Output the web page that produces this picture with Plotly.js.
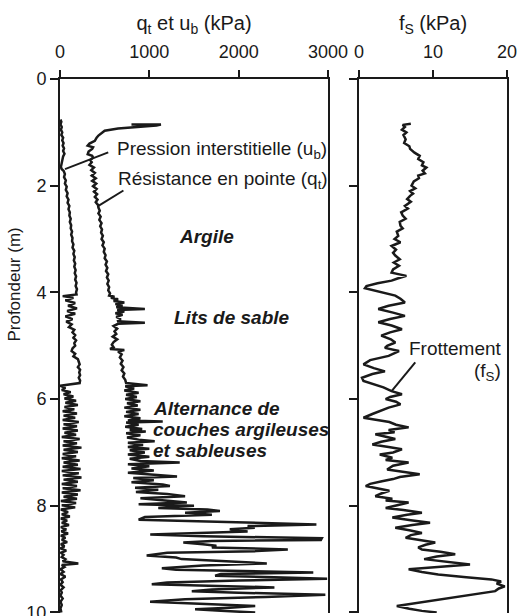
<!DOCTYPE html>
<html>
<head>
<meta charset="utf-8">
<script src="https://cdn.plot.ly/plotly-3.0.1.min.js"></script>
<style>html,body{margin:0;padding:0;background:#fff;}#chart{width:519px;height:616px;}</style>
</head>
<body>
<div id="chart"></div>
<script>
// Résistance en pointe q_t (kPa) vs profondeur (m)
const qtDepth = [0.855,0.855,0.87,0.90,0.93,0.97,1.02,1.06,1.10,1.16,1.21,1.25,1.28,1.31,1.36,1.41,1.44,1.47,1.52,1.56,1.61,1.66,1.71,1.76,1.81,1.86,1.91,1.96,2.01,2.06,2.11,2.16,2.21,2.26,2.31,2.36,2.41,2.47,2.52,2.58,2.64,2.70,2.76,2.82,2.88,2.94,3.00,3.06,3.12,3.18,3.24,3.30,3.36,3.42,3.48,3.54,3.60,3.66,3.72,3.78,3.84,3.90,3.96,4.02,4.06,4.08,4.10,4.13,4.16,4.19,4.22,4.25,4.28,4.31,4.33,4.36,4.39,4.42,4.46,4.50,4.54,4.57,4.59,4.63,4.68,4.73,4.78,4.83,4.88,4.93,4.98,5.03,5.06,5.08,5.11,5.16,5.22,5.28,5.34,5.40,5.46,5.52,5.58,5.64,5.70,5.74,5.76,5.80,5.84,5.88,5.92,5.96,6.00,6.04,6.08,6.12,6.16,6.20,6.24,6.28,6.32,6.36,6.40,6.42,6.44,6.48,6.52,6.56,6.58,6.61,6.64,6.68,6.72,6.76,6.79,6.82,6.86,6.90,6.93,6.96,7.00,7.04,7.08,7.12,7.16,7.19,7.22,7.26,7.30,7.34,7.38,7.42,7.45,7.48,7.52,7.56,7.60,7.63,7.66,7.70,7.74,7.78,7.82,7.86,7.90,7.94,7.97,8.00,8.04,8.07,8.10,8.13,8.17,8.21,8.26,8.30,8.35,8.38,8.41,8.44,8.48,8.54,8.57,8.61,8.64,8.66,8.69,8.72,8.75,8.78,8.82,8.85,8.88,8.93,8.97,9.00,9.04,9.08,9.12,9.17,9.20,9.25,9.28,9.31,9.34,9.37,9.40,9.44,9.47,9.50,9.53,9.57,9.60,9.63,9.67,9.71,9.75,9.80,9.84,9.88,9.91,9.94,9.97,10.0];
const qtValue = [800,1130,1080,880,650,500,460,430,410,390,330,310,370,360,320,310,360,370,340,355,330,380,350,390,355,400,360,405,370,410,380,415,390,420,400,425,430,445,430,455,440,465,450,470,460,480,465,490,475,500,490,510,500,525,510,530,515,540,525,545,530,550,540,560,550,610,570,650,600,720,620,700,630,950,640,720,620,700,630,680,640,950,650,600,640,610,630,590,640,600,580,600,560,720,650,690,670,700,680,710,690,720,705,730,740,980,730,830,720,880,740,860,730,900,750,870,720,900,740,880,720,900,760,1150,740,880,730,920,780,960,740,900,750,880,1060,760,930,760,1000,780,950,760,1000,780,900,1340,760,1000,800,1050,760,1100,1310,820,1050,800,1150,1230,840,1100,850,1200,1400,900,1200,1420,880,1500,1100,1650,1790,1400,1700,950,880,1900,2870,2100,2180,1900,2100,1010,1600,2930,2920,1700,1380,1600,1750,1700,2550,2200,1200,970,1300,1360,1800,2315,1600,1140,1300,2835,1800,1736,2400,2990,2000,1200,1027,1800,2400,1700,1475,2000,2970,2300,1400,1008,1700,2185,1900,1512,1800,2185];

// Pression interstitielle u_b (kPa)
const ubDepth = [0.76,0.80,0.85,0.90,0.95,1.00,1.05,1.10,1.15,1.20,1.25,1.30,1.35,1.40,1.45,1.50,1.55,1.60,1.65,1.69,1.72,1.78,1.84,1.90,1.96,2.02,2.08,2.14,2.20,2.26,2.32,2.38,2.44,2.50,2.56,2.62,2.68,2.74,2.80,2.86,2.92,2.98,3.04,3.10,3.16,3.22,3.28,3.34,3.40,3.46,3.52,3.58,3.64,3.70,3.76,3.82,3.88,3.94,4.00,4.04,4.07,4.10,4.15,4.20,4.25,4.30,4.35,4.40,4.45,4.50,4.55,4.60,4.65,4.70,4.75,4.80,4.85,4.90,4.95,5.00,5.05,5.10,5.15,5.20,5.25,5.30,5.35,5.40,5.45,5.50,5.55,5.60,5.65,5.70,5.75,5.79,5.83,5.87,5.91,5.95,5.99,6.03,6.07,6.11,6.15,6.19,6.23,6.27,6.31,6.35,6.39,6.43,6.47,6.51,6.55,6.59,6.63,6.67,6.71,6.75,6.79,6.83,6.87,6.91,6.95,6.99,7.03,7.07,7.11,7.15,7.19,7.23,7.27,7.31,7.35,7.39,7.43,7.47,7.51,7.55,7.59,7.63,7.67,7.71,7.75,7.79,7.83,7.87,7.91,7.95,7.99,8.03,8.07,8.12,8.16,8.20,8.24,8.28,8.32,8.36,8.40,8.44,8.48,8.52,8.56,8.60,8.64,8.68,8.72,8.76,8.80,8.84,8.88,8.92,8.96,9.00,9.04,9.08,9.11,9.15,9.19,9.24,9.28,9.33,9.38,9.43,9.48,9.53,9.58,9.63,9.68,9.74,9.80,9.86,9.92,10.0];
const ubValue = [5,15,5,20,10,25,15,35,25,40,30,45,35,50,35,30,25,15,10,20,40,55,45,65,55,75,65,85,75,95,85,105,95,110,105,120,110,125,120,135,125,140,135,150,140,160,150,165,155,170,160,175,165,180,170,185,175,190,180,185,30,150,60,170,90,190,80,170,60,140,70,130,100,160,140,170,150,180,160,170,140,130,170,150,200,210,220,200,225,215,225,210,225,220,0,60,20,120,40,150,50,180,60,200,50,160,30,190,40,170,30,210,40,190,30,200,50,180,20,220,40,190,30,240,40,200,30,180,20,220,40,200,30,230,20,210,30,240,40,200,20,190,30,230,20,200,40,190,10,180,20,170,10,90,20,110,10,80,20,100,10,70,15,90,10,60,20,80,10,50,5,70,10,40,20,60,30,205,20,50,5,40,5,60,10,30,5,40,10,20,5,30,5,20,5,15];

// Frottement f_s (kPa)
const fsDepth = [0.84,0.86,0.90,0.95,1.00,1.05,1.13,1.20,1.26,1.31,1.38,1.44,1.50,1.56,1.62,1.66,1.72,1.77,1.81,1.86,1.92,2.00,2.05,2.10,2.15,2.19,2.25,2.30,2.38,2.43,2.50,2.56,2.62,2.68,2.75,2.80,2.86,2.94,3.00,3.06,3.13,3.20,3.26,3.31,3.38,3.44,3.50,3.57,3.63,3.69,3.74,3.78,3.83,3.88,3.92,3.97,4.02,4.06,4.12,4.19,4.25,4.31,4.38,4.44,4.50,4.56,4.62,4.69,4.75,4.81,4.88,4.94,5.00,5.04,5.10,5.19,5.27,5.35,5.42,5.48,5.53,5.60,5.66,5.72,5.78,5.85,5.91,5.96,6.00,6.05,6.10,6.16,6.22,6.28,6.35,6.39,6.43,6.48,6.53,6.58,6.62,6.66,6.71,6.75,6.80,6.85,6.90,6.94,7.00,7.04,7.10,7.14,7.19,7.25,7.32,7.36,7.41,7.46,7.50,7.54,7.59,7.63,7.68,7.72,7.77,7.82,7.87,7.90,7.94,7.99,8.04,8.08,8.13,8.17,8.22,8.27,8.32,8.36,8.41,8.46,8.51,8.55,8.60,8.64,8.69,8.73,8.78,8.82,8.86,8.91,8.95,9.00,9.05,9.10,9.14,9.19,9.24,9.29,9.34,9.38,9.42,9.46,9.51,9.55,9.60,9.64,9.69,9.74,9.79,9.84,9.88,9.93,9.97,10.0];
const fsValue = [7.0,5.9,6.2,5.8,6.4,6.0,6.3,6.1,6.8,6.9,7.5,8.2,8.0,8.7,8.5,9.1,8.6,8.9,8.0,8.1,7.4,7.1,7.6,6.9,7.3,6.9,6.5,7.0,6.2,6.6,5.7,5.9,6.3,5.5,5.6,5.9,5.1,5.3,4.8,5.6,4.4,5.0,4.6,4.9,5.5,4.7,5.4,4.6,4.4,6.4,5.2,4.4,2.5,1.0,0.8,2.2,3.6,4.9,5.6,6.2,4.0,2.6,4.6,6.2,4.2,2.6,4.4,5.8,4.2,3.0,4.3,4.9,3.8,3.5,5.4,4.0,1.5,0.6,2.0,3.5,1.8,0.4,0.6,2.0,3.3,4.4,5.8,4.2,3.6,5.0,5.6,4.0,2.8,1.8,0.6,2.5,4.1,5.0,6.7,4.0,4.8,2.2,3.6,4.9,3.0,1.8,4.0,5.8,4.6,2.8,4.5,3.6,6.7,4.6,3.8,6.0,8.2,5.5,4.6,3.1,1.5,0.9,2.6,4.1,3.0,2.2,4.5,3.6,6.7,5.0,3.6,6.0,8.5,6.5,4.5,7.0,9.6,7.2,4.9,6.8,8.5,7.0,6.3,8.2,10.3,9.0,8.0,8.5,11.0,13.0,10.5,8.8,12.0,15.0,11.5,6.7,8.5,10.7,14.5,17.9,19.2,18.6,19.7,18.9,18.4,16.5,14.3,12.0,9.8,7.5,5.1,6.8,8.5,10.5];

const qtTicks = [0, 1000, 2000, 3000];
const fsTicks = [0, 10, 20];
const depthTicks = [0, 2, 4, 6, 8, 10];

const FONT = 'Liberation Sans, Arial, Helvetica, sans-serif';
const INK = '#1a1a1a';

const lineStyle = {color: INK, width: 2.5};
const traces = [
  {x: ubValue, y: ubDepth, xaxis: 'x', yaxis: 'y', mode: 'lines', line: lineStyle, name: 'u_b', hoverinfo: 'skip'},
  {x: qtValue, y: qtDepth, xaxis: 'x', yaxis: 'y', mode: 'lines', line: lineStyle, name: 'q_t', hoverinfo: 'skip'},
  {x: fsValue, y: fsDepth, xaxis: 'x2', yaxis: 'y2', mode: 'lines', line: lineStyle, name: 'f_s', hoverinfo: 'skip'}
];

const axCommon = {
  showline: true, linewidth: 2, linecolor: INK, showgrid: false, zeroline: false,
  ticks: 'outside', tickwidth: 2, tickcolor: INK, ticklen: 7,
  tickfont: {family: FONT, size: 18, color: INK}, fixedrange: true,
  ticklabeloverflow: 'allow'
};

const italic = {family: FONT, size: 19, color: INK};
const layout = {
  width: 519, height: 616,
  margin: {l: 60, r: 12, t: 79, b: 3},
  paper_bgcolor: '#fff', plot_bgcolor: '#fff',
  showlegend: false,
  font: {family: FONT, color: INK},
  xaxis: Object.assign({}, axCommon, {
    domain: [0, 0.5996], range: [0, 3000], side: 'top', anchor: 'y',
    tickvals: qtTicks, ticktext: qtTicks.map(String), ticklabelstandoff: 5,
    title: {text: 'q<sub>t</sub> et u<sub>b</sub> (kPa)', font: {family: FONT, size: 20, color: INK}, standoff: 6}
  }),
  xaxis2: Object.assign({}, axCommon, {
    domain: [0.669, 1], range: [0, 20], side: 'top', anchor: 'y2',
    tickvals: fsTicks, ticktext: fsTicks.map(String), ticklabelstandoff: 5,
    title: {text: 'f<sub>S</sub> (kPa)', font: {family: FONT, size: 20, color: INK}, standoff: 6}
  }),
  yaxis: Object.assign({}, axCommon, {
    domain: [0, 1], range: [10.01, 0], anchor: 'x', mirror: true, ticklen: 8,
    tickvals: depthTicks, ticktext: depthTicks.map(String)
  }),
  yaxis2: Object.assign({}, axCommon, {
    domain: [0, 1], range: [10.01, 0], anchor: 'x2', mirror: true, ticklen: 8,
    tickvals: depthTicks, showticklabels: false, matches: 'y'
  }),
  shapes: [
    {type: 'line', xref: 'x', yref: 'y', x0: 56, y0: 1.69, x1: 540, y1: 1.375, line: {color: INK, width: 2}},
    {type: 'line', xref: 'x', yref: 'y', x0: 430, y0: 2.38, x1: 710, y1: 2.09, line: {color: INK, width: 2}},
    {type: 'line', xref: 'x2', yref: 'y2', x0: 4.4, y0: 5.85, x1: 7.6, y1: 5.31, line: {color: INK, width: 2}}
  ],
  annotations: [
    {xref: 'paper', yref: 'paper', x: -0.1007, y: 0.615, text: 'Profondeur (m)', textangle: -90, showarrow: false, font: {family: FONT, size: 17, color: INK}, xanchor: 'center', yanchor: 'middle'},
    {xref: 'x', yref: 'y', x: 620, y: 1.34, text: 'Pression interstitielle (u<sub>b</sub>)', showarrow: false, xanchor: 'left', yanchor: 'middle', font: {family: FONT, size: 19, color: INK}},
    {xref: 'x', yref: 'y', x: 625, y: 1.90, text: 'Résistance en pointe (q<sub>t</sub>)', showarrow: false, xanchor: 'left', yanchor: 'middle', font: {family: FONT, size: 19, color: INK}},
    {xref: 'x', yref: 'y', x: 1310, y: 2.96, text: '<b><i>Argile</i></b>', showarrow: false, xanchor: 'left', yanchor: 'middle', font: italic},
    {xref: 'x', yref: 'y', x: 1255, y: 4.47, text: '<b><i>Lits de sable</i></b>', showarrow: false, xanchor: 'left', yanchor: 'middle', font: italic},
    {xref: 'x', yref: 'y', x: 1020, y: 6.17, text: '<b><i>Alternance de</i></b>', showarrow: false, xanchor: 'left', yanchor: 'middle', font: italic},
    {xref: 'x', yref: 'y', x: 1020, y: 6.57, text: '<b><i>couches argileuses</i></b>', showarrow: false, xanchor: 'left', yanchor: 'middle', font: italic},
    {xref: 'x', yref: 'y', x: 1020, y: 6.96, text: '<b><i>et sableuses</i></b>', showarrow: false, xanchor: 'left', yanchor: 'middle', font: italic},
    {xref: 'x2', yref: 'y2', x: 19.6, y: 5.06, text: 'Frottement', showarrow: false, xanchor: 'right', yanchor: 'middle', font: {family: FONT, size: 19, color: INK}},
    {xref: 'x2', yref: 'y2', x: 19.4, y: 5.49, text: '(f<sub>S</sub>)', showarrow: false, xanchor: 'right', yanchor: 'middle', font: {family: FONT, size: 19, color: INK}}
  ]
};

Plotly.newPlot('chart', traces, layout, {displayModeBar: false, staticPlot: true});
</script>
</body>
</html>
